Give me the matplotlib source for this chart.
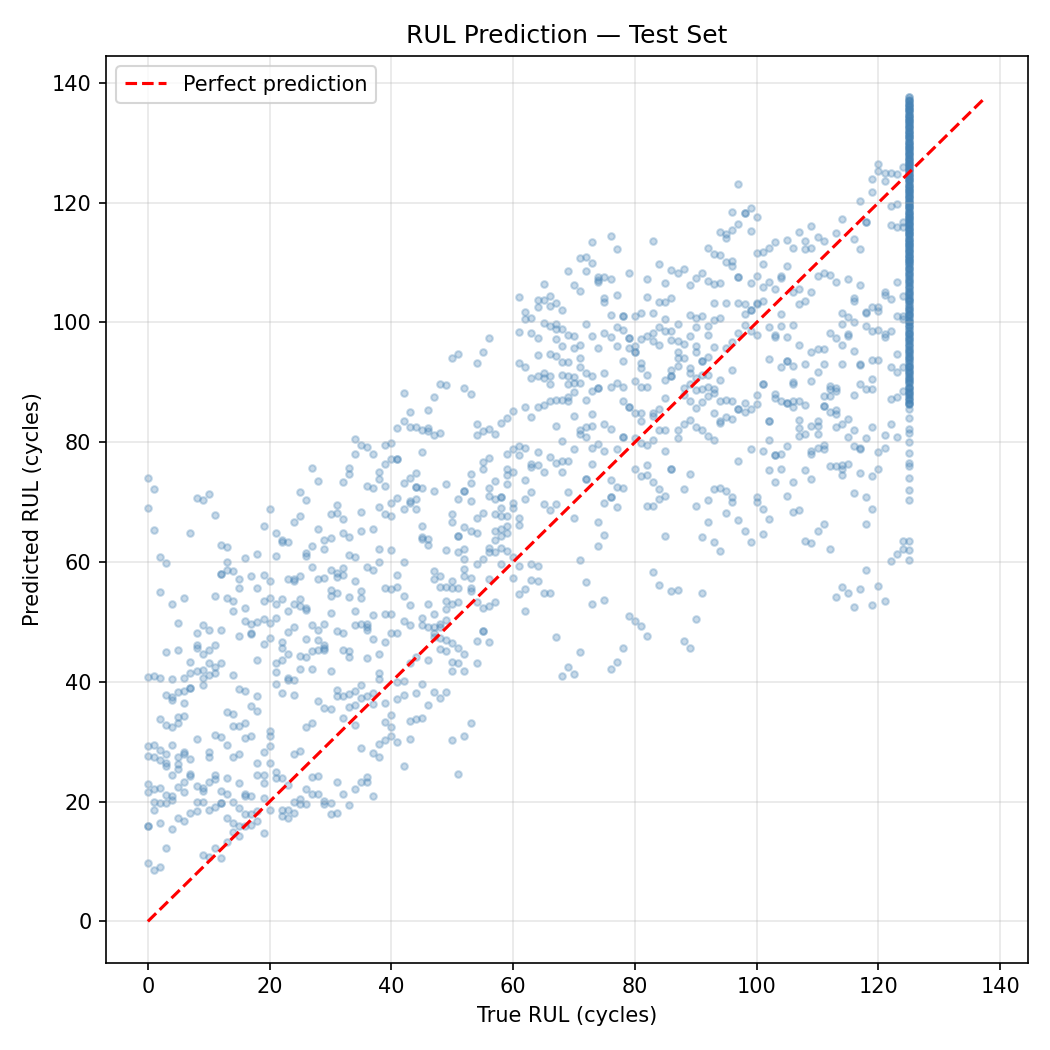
import numpy as np
import matplotlib.pyplot as plt

# --- data (true RUL, predicted RUL) ---
pts_0_20 = [(0,74.0),(1,72.2),(0,69.0),(1,65.3),(8,70.7),(9,70.3),(10,71.3),(11,67.9),(7,64.8),(20,68.8),(19,66.0),(12,62.8),(13,62.5),(2,60.8),(3,59.9),(16,60.7),(18,61.3),(13,60.0),(13,58.6),(14,58.5),(12,58.0),(12,58.0),(15,57.1),(17,57.6),(19,57.8),(20,56.8),(15,55.6),(18,55.6),(2,55.0),(6,54.0),(11,54.3),(13,54.0),(14,53.5),(19,53.5),(20,54.0),(4,53.0),(16,52.4),(14,51.8),(5,49.8),(9,49.5),(16,50.1),(17,49.6),(18,50.0),(19,50.5),(20,49.8),(8,48.2),(10,48.7),(12,48.7),(17,48.2),(17,47.9),(15,47.6),(20,47.3),(19,46.3),(3,45.0),(5,45.3),(8,46.1),(8,45.7),(10,45.3),(11,46.2),(9,44.6),(7,43.3),(18,43.6),(10,43.1),(11,42.4),(12,43.1),(9,41.9),(8,41.8),(7,41.4),(10,41.2),(11,41.4),(9,40.7),(14,41.1),(0,40.8),(1,41.0),(2,40.6),(4,40.5),(6,40.6),(7,38.9),(7,38.9),(9,39.5),(6,38.5),(5,38.3),(4,37.4),(4,36.9),(3,37.8),(15,38.8),(16,38.5),(18,37.6),(6,36.4),(17,35.9),(18,35.1),(2,33.8),(3,32.8),(4,32.4),(5,33.2),(5,34.2),(6,34.3),(13,35.0),(14,34.6),(14,32.6),(15,32.6),(16,33.1),(20,31.8),(20,30.9),(20,29.3),(11,31.1),(12,30.8),(16,30.6),(17,30.9),(8,30.4),(13,29.5),(0,29.2),(1,29.5),(2,28.6),(4,29.4),(0,27.6),(1,27.4),(2,27.0),(3,27.9),(3,26.5),(3,26.0),(5,27.5),(6,27.9),(6,28.2),(7,27.1),(10,28.3),(10,27.5),(14,27.5),(15,28.0),(19,28.3),(5,26.3),(5,25.4),(18,26.4),(20,26.5),(4,24.5),(7,24.6),(7,24.2),(11,24.5),(13,24.0),(18,24.5),(19,24.5),(6,23.2),(5,22.5),(6,21.6),(10,23.2),(11,23.8),(15,23.1),(19,23.1),(0,22.9),(0,21.6),(1,22.1),(2,22.2),(3,21.1),(4,21.0),(4,20.2),(8,22.6),(9,22.2),(9,21.8),(12,21.7),(13,21.3),(16,21.3),(16,20.9),(17,21.0),(19,20.6),(1,19.9),(2,19.7),(3,19.7),(8,19.9),(9,20.0),(12,19.7),(12,19.7),(14,19.9),(15,19.0),(1,18.6),(10,18.6),(11,19.1),(20,18.6),(16,17.9),(17,17.9),(18,18.5),(7,18.1),(8,18.4),(13,17.2),(5,17.2),(6,16.8),(0,16.0),(0,16.0),(2,16.4),(14,16.4),(15,15.9),(14,15.0),(15,14.3),(16,16.0),(17,16.1),(18,16.8),(4,15.4),(19,14.7),(3,12.2),(11,12.3),(13,13.2),(9,11.1),(10,10.7),(12,10.6),(0,9.7),(1,8.5),(2,9.1)]

pts_21_40 = [(34,80.5),(34,78.0),(35,79.6),(36,79.2),(37,78.0),(39,79.6),(40,79.8),(27,75.7),(28,73.5),(33,75.7),(33,74.7),(32,73.4),(39,76.3),(40,77.2),(38,75.1),(38,73.8),(39,72.7),(36,72.7),(37,72.3),(25,71.7),(26,70.4),(31,69.5),(30,68.0),(31,68.2),(32,67.2),(35,68.4),(38,69.1),(39,68.0),(40,67.7),(40,69.8),(24,66.7),(25,67.6),(28,65.5),(32,64.9),(33,64.2),(35,65.2),(37,65.5),(21,64.9),(22,63.6),(22,63.3),(23,63.3),(29,63.6),(30,64.0),(27,62.6),(21,61.0),(26,61.5),(26,61.0),(29,62.1),(33,61.1),(34,60.9),(38,62.1),(38,60.0),(40,62.0),(27,59.2),(30,58.6),(31,58.1),(32,59.0),(32,57.9),(36,59.2),(37,58.6),(23,57.1),(24,57.1),(24,56.9),(25,57.7),(28,57.1),(29,57.4),(31,57.5),(34,56.9),(39,55.6),(40,55.5),(35,55.2),(35,54.0),(30,55.4),(30,54.4),(31,54.9),(33,54.2),(22,53.8),(21,53.0),(25,53.8),(24,53.0),(25,52.6),(26,52.3),(26,52.0),(23,51.8),(30,51.5),(34,51.9),(37,51.2),(39,51.4),(40,51.3),(21,50.6),(29,49.7),(27,49.4),(28,48.7),(24,49.1),(23,48.3),(34,49.5),(35,49.7),(36,49.6),(36,49.1),(36,48.6),(31,48.5),(32,48.2),(40,48.1),(22,46.7),(22,45.6),(26,47.2),(28,47.0),(37,47.1),(39,46.7),(29,46.2),(29,45.7),(29,45.3),(27,45.2),(28,45.3),(23,44.7),(32,45.3),(33,45.2),(33,44.2),(38,44.7),(25,44.3),(26,44.2),(36,43.9),(21,43.1),(22,43.6),(25,42.1),(27,42.1),(30,41.8),(21,41.6),(21,39.6),(23,40.7),(23,40.3),(24,40.3),(38,41.5),(38,40.4),(22,38.1),(24,37.8),(31,38.7),(31,37.6),(32,37.6),(33,38.0),(34,38.4),(35,39.4),(28,36.8),(29,35.7),(30,35.5),(33,35.8),(34,36.2),(35,37.3),(36,37.6),(37,38.1),(37,36.3),(39,36.4),(32,33.9),(34,32.8),(26,32.4),(27,33.1),(39,33.3),(40,34.5),(40,32.4),(40,31.0),(39,30.2),(38,29.6),(38,27.4),(37,28.1),(35,29.0),(24,28.0),(25,28.4),(21,25.0),(21,23.9),(22,23.9),(27,24.1),(28,24.3),(31,23.3),(35,23.3),(36,24.1),(36,23.3),(23,22.8),(26,22.1),(27,21.3),(28,21.3),(32,21.3),(34,22.1),(37,20.9),(24,20.0),(25,20.4),(25,19.6),(26,19.6),(29,20.1),(29,19.6),(30,19.7),(33,19.4),(22,18.6),(22,17.6),(23,18.6),(23,17.2),(24,18.1),(30,17.9),(31,18.1)]

pts_41_60 = [(56,97.4),(55,95.0),(50,94.0),(51,94.7),(54,93.2),(48,89.7),(49,89.5),(52,89.0),(53,88.0),(42,88.2),(47,87.5),(46,85.4),(43,85.0),(42,83.6),(41,82.3),(43,82.5),(44,82.5),(45,82.0),(46,82.3),(46,81.9),(47,81.2),(48,81.5),(54,83.0),(54,81.2),(55,81.8),(56,82.2),(57,81.3),(58,83.2),(59,84.0),(60,85.2),(45,78.3),(41,77.2),(41,77.2),(44,74.8),(43,74.1),(42,73.2),(44,72.5),(44,72.5),(45,72.4),(47,71.8),(49,73.0),(53,74.7),(53,73.2),(52,71.8),(52,71.8),(55,76.7),(55,75.6),(56,77.4),(57,73.5),(56,72.4),(56,71.0),(59,78.0),(60,78.8),(59,75.5),(59,74.6),(59,73.0),(60,75.1),(41,70.7),(43,70.2),(43,69.8),(44,70.5),(44,68.8),(42,68.8),(51,70.5),(53,70.2),(58,70.8),(58,70.8),(57,70.5),(58,69.0),(57,68.0),(58,67.6),(60,69.9),(60,69.0),(50,68.0),(50,66.7),(54,67.4),(55,68.2),(59,67.6),(59,66.0),(59,64.8),(58,65.5),(58,64.4),(57,65.1),(57,63.7),(45,66.0),(45,64.1),(45,63.8),(46,63.8),(46,62.9),(52,65.9),(53,65.2),(54,64.8),(51,64.4),(51,64.4),(49,62.0),(51,61.7),(52,62.1),(52,60.5),(56,62.4),(56,61.6),(57,61.7),(58,62.4),(59,61.9),(42,60.0),(54,59.6),(55,60.5),(58,59.6),(60,60.8),(47,58.5),(47,57.1),(48,57.6),(49,55.9),(48,55.9),(50,56.9),(50,55.7),(51,55.7),(52,58.8),(52,57.7),(53,57.3),(53,55.6),(53,55.2),(54,53.4),(55,52.3),(56,52.7),(57,53.4),(56,57.1),(60,57.3),(41,57.8),(41,55.9),(42,54.4),(43,52.8),(42,50.2),(43,49.5),(46,53.0),(47,51.3),(45,50.7),(45,49.5),(46,49.2),(47,49.2),(48,49.6),(48,49.1),(49,53.5),(49,52.1),(50,53.0),(51,53.4),(49,50.4),(49,47.0),(48,45.4),(49,45.2),(50,46.4),(51,45.6),(52,44.7),(47,48.2),(47,47.5),(48,47.3),(50,43.3),(51,43.2),(50,41.8),(52,41.8),(54,43.1),(55,48.5),(55,48.5),(54,46.8),(56,46.7),(41,48.2),(44,44.1),(43,43.1),(46,43.7),(41,40.0),(42,40.2),(45,39.6),(44,38.2),(41,37.1),(42,37.8),(47,38.3),(48,37.3),(49,38.3),(46,36.2),(43,33.5),(44,33.8),(45,34.0),(53,33.1),(41,30.0),(43,30.4),(52,31.0),(50,30.2),(42,26.0),(51,24.6)]

pts_61_80 = [(76,114.5),(73,113.4),(77,112.3),(71,110.7),(72,111.0),(73,110.0),(69,108.6),(72,108.6),(74,107.5),(74,107.0),(74,106.8),(75,107.6),(76,107.2),(79,108.3),(65,106.4),(70,106.3),(71,105.3),(75,104.1),(75,103.4),(77,104.6),(61,104.2),(64,103.8),(65,103.7),(66,104.4),(67,103.3),(66,102.7),(64,102.5),(68,102.1),(62,101.7),(63,100.8),(62,100.5),(65,99.9),(66,99.4),(67,99.8),(67,98.9),(68,98.9),(76,101.2),(78,101.1),(78,101.1),(80,101.0),(61,98.4),(63,98.3),(64,97.4),(69,97.9),(70,97.8),(72,99.7),(73,97.7),(75,98.3),(76,97.5),(77,99.2),(78,98.7),(79,97.4),(79,97.4),(79,95.7),(80,96.1),(80,95.0),(80,95.0),(67,97.2),(68,96.0),(66,94.7),(67,94.4),(64,94.5),(71,96.2),(70,95.8),(71,94.0),(74,95.7),(77,96.1),(61,93.2),(62,92.6),(68,93.4),(69,93.4),(71,92.5),(72,91.5),(73,91.0),(75,91.5),(78,93.6),(63,90.8),(64,91.1),(65,91.5),(65,90.8),(66,91.1),(66,89.7),(68,91.3),(69,91.0),(70,90.9),(69,89.7),(70,89.9),(71,89.9),(70,88.4),(73,88.5),(74,89.0),(74,89.0),(76,89.3),(77,89.9),(78,89.2),(80,90.2),(65,86.2),(64,85.9),(66,86.8),(67,87.1),(68,87.1),(69,87.5),(69,86.9),(62,85.9),(63,84.2),(72,87.1),(73,84.7),(70,84.4),(78,86.8),(79,85.8),(79,85.8),(80,84.9),(75,83.0),(76,82.2),(73,82.7),(72,82.5),(71,82.0),(71,81.3),(72,80.8),(67,82.7),(68,80.2),(70,78.8),(73,79.1),(74,79.7),(75,78.6),(77,78.9),(78,80.8),(78,80.8),(80,80.7),(80,75.5),(61,79.4),(62,79.1),(61,77.8),(64,78.3),(63,76.3),(63,75.8),(64,76.2),(65,75.1),(66,77.5),(67,76.5),(68,76.9),(69,76.9),(68,75.1),(62,73.7),(63,71.7),(62,70.5),(72,73.9),(72,73.9),(73,76.3),(76,73.7),(77,72.5),(78,72.3),(76,70.8),(76,70.8),(75,69.8),(77,69.2),(69,71.7),(65,69.7),(66,68.7),(67,69.7),(70,67.3),(61,67.4),(61,66.2),(74,66.6),(75,64.5),(74,62.7),(71,60.3),(61,59.4),(63,59.6),(64,59.4),(63,57.0),(64,56.9),(61,54.7),(62,55.5),(65,54.9),(66,54.8),(62,51.8),(72,56.7),(73,53.0),(75,53.6),(79,51.0),(80,50.1),(67,47.5),(71,44.9),(78,45.6),(77,43.3),(76,42.1),(69,42.5),(68,41.0),(70,41.3)]

pts_81_100 = [(97,123.1),(96,118.5),(98,118.2),(98,118.2),(99,119.1),(100,117.6),(99,115.2),(97,116.4),(94,115.1),(95,114.7),(95,114.1),(96,115.5),(92,112.5),(93,111.4),(94,111.3),(95,110.1),(96,110.2),(96,109.5),(100,111.6),(83,113.6),(84,109.7),(86,108.7),(87,108.2),(88,108.9),(91,108.2),(90,107.4),(89,106.3),(93,106.4),(94,106.5),(92,106.9),(97,107.6),(97,107.6),(99,106.6),(100,107.7),(82,107.2),(85,106.6),(82,104.3),(84,103.4),(85,103.4),(86,104.1),(93,103.2),(95,103.2),(97,103.2),(98,103.1),(98,101.4),(99,102.0),(99,102.0),(100,103.3),(100,103.0),(81,101.5),(83,101.6),(85,100.6),(87,99.7),(86,98.6),(85,98.6),(84,99.2),(83,98.3),(82,97.8),(81,97.2),(89,101.3),(90,100.8),(91,101.0),(92,99.4),(93,100.4),(94,100.8),(89,97.8),(90,99.2),(92,97.9),(93,95.9),(95,95.8),(96,96.7),(97,98.3),(98,99.5),(99,98.6),(100,97.9),(83,96.9),(84,96.2),(86,97.1),(87,96.9),(88,96.4),(81,93.3),(81,92.4),(90,96.1),(90,95.0),(91,93.6),(91,93.6),(92,94.3),(87,95.0),(87,94.1),(88,94.0),(87,92.8),(86,92.0),(86,91.1),(86,91.1),(85,90.4),(89,92.4),(89,91.5),(90,90.8),(91,91.3),(92,91.3),(96,92.0),(94,90.4),(93,88.9),(92,89.3),(82,91.3),(81,89.2),(82,89.2),(88,89.0),(88,87.8),(89,89.7),(90,88.7),(91,88.9),(90,85.7),(91,86.7),(85,87.4),(84,85.5),(83,84.9),(83,84.4),(81,84.9),(81,83.6),(89,86.8),(89,83.7),(88,83.0),(93,88.2),(92,87.7),(93,84.8),(94,86.8),(95,87.0),(96,86.9),(94,83.6),(94,83.2),(95,84.2),(96,83.8),(97,85.5),(97,85.5),(98,85.0),(98,86.5),(99,85.5),(100,87.8),(100,86.4),(84,82.0),(85,82.0),(87,82.0),(87,80.7),(90,82.6),(91,82.0),(92,81.1),(93,80.4),(81,79.8),(82,79.5),(83,80.3),(85,78.6),(86,75.5),(86,75.5),(89,74.7),(81,74.4),(82,74.6),(82,76.2),(83,73.4),(84,72.2),(84,70.5),(85,71.1),(83,69.4),(82,69.4),(88,72.2),(97,76.9),(99,78.8),(93,72.2),(94,72.3),(95,71.9),(96,70.9),(96,70.0),(95,68.2),(92,70.3),(90,69.4),(100,70.8),(100,70.0),(97,67.0),(98,65.2),(99,63.4),(92,66.6),(93,63.3),(94,61.8),(91,64.1),(85,64.3),(83,58.3),(84,56.2),(86,55.1),(87,55.4),(91,54.8),(81,49.3),(82,47.6),(90,50.5),(88,46.8),(89,45.6)]

pts_101_124 = [(120,126.5),(119,123.9),(120,125.2),(121,125.0),(122,124.9),(123,124.7),(124,126.0),(121,123.6),(119,121.8),(122,119.4),(123,119.8),(122,116.3),(123,116.0),(124,116.0),(124,116.8),(117,120.3),(118,116.8),(118,116.8),(114,117.2),(116,113.9),(117,112.2),(113,115.0),(107,115.1),(109,116.1),(108,113.6),(109,112.5),(110,114.3),(111,113.6),(108,112.2),(106,112.5),(105,113.7),(103,113.4),(102,112.5),(101,111.8),(101,109.7),(105,109.4),(104,107.8),(104,107.4),(101,105.9),(102,106.7),(103,105.5),(106,105.0),(107,105.5),(107,103.0),(108,103.6),(109,105.0),(110,107.8),(111,108.2),(112,107.9),(113,106.7),(115,107.2),(117,106.3),(121,105.0),(121,104.6),(122,103.9),(123,106.8),(124,104.4),(116,104.0),(116,103.6),(101,103.6),(104,101.4),(102,99.2),(103,97.9),(104,99.4),(103,97.5),(105,97.5),(106,99.6),(112,98.2),(113,97.4),(114,101.6),(114,99.7),(115,100.9),(115,98.1),(116,100.0),(118,101.8),(118,99.4),(119,102.6),(120,102.6),(120,101.9),(118,101.5),(119,98.6),(120,98.7),(121,98.1),(121,97.5),(122,98.6),(123,101.1),(124,100.5),(124,101.1),(102,93.9),(105,93.6),(105,93.6),(104,92.6),(106,92.7),(107,96.2),(108,93.0),(109,95.1),(110,95.5),(111,95.5),(110,91.8),(109,90.2),(111,93.0),(114,96.2),(115,97.7),(114,93.0),(116,95.2),(117,93.1),(117,92.9),(119,93.8),(120,93.8),(122,92.5),(123,94.7),(123,91.8),(124,92.6),(101,89.8),(101,89.8),(103,88.0),(103,87.3),(104,86.8),(105,86.5),(105,86.5),(106,86.9),(106,85.8),(107,86.8),(108,86.2),(106,90.1),(106,89.7),(112,89.4),(112,88.8),(113,89.1),(113,88.5),(111,87.7),(112,87.7),(116,87.8),(118,88.8),(119,88.8),(119,90.5),(117,89.8),(122,87.2),(123,87.6),(124,88.5),(111,86.0),(111,86.0),(102,83.6),(102,83.6),(102,80.4),(101,78.5),(107,83.7),(107,82.4),(107,81.1),(108,81.3),(109,82.7),(110,83.6),(110,82.7),(110,81.3),(109,78.5),(109,78.1),(110,79.1),(111,79.6),(111,78.8),(112,85.1),(113,85.3),(113,84.7),(113,82.5),(114,83.0),(115,83.8),(116,82.0),(115,80.8),(116,79.4),(117,79.1),(117,78.8),(118,80.7),(119,82.6),(121,81.2),(122,83.1),(123,80.9),(120,78.3),(121,79.0),(103,77.9),(103,77.9),(104,78.0),(105,79.4),(102,75.3),(104,75.5),(103,73.4),(106,73.3),(112,76.0),(113,76.0),(114,76.2),(114,75.5),(114,74.5),(115,76.3),(117,74.8),(119,74.3),(120,75.6),(108,75.3),(109,73.8),(105,71.0),(106,68.4),(107,68.7),(101,68.8),(102,67.1),(101,64.6),(116,71.5),(118,70.9),(119,68.8),(118,66.3),(108,63.5),(109,63.2),(110,65.2),(111,66.3),(112,62.1),(122,60.2),(123,61.3),(124,62.1),(124,63.5),(118,58.6),(113,54.2),(114,55.8),(115,54.9),(116,52.5),(117,55.5),(119,52.9),(120,56.0),(121,53.5)]

# engines whose true RUL is capped at 125
cap = 125
pred_cap_low = [60.3, 62.0, 63.5, 70.3, 72.1, 74.0, 76.0, 76.5, 78.2, 80.0, 81.5, 82.2, 84.1, 85.6]
pred_cap_mid = [86.3, 86.6, 87.1, 87.4, 87.9, 88.2, 88.6, 89.0, 89.3, 89.9, 90.2, 90.5, 90.9, 91.4,
                91.7, 92.1, 92.6, 92.8, 93.3, 93.7, 94.0, 94.4, 94.9, 95.3, 95.5, 96.0, 96.4, 96.9,
                97.2, 97.6, 98.1, 98.3, 98.8, 99.2, 99.5, 100.0, 100.3, 100.7, 101.2, 101.4, 101.9,
                102.3, 102.6, 103.0, 103.5, 103.8, 104.1, 104.6, 104.9, 105.3, 105.8, 106.0, 106.5,
                106.9, 107.2, 107.7, 108.0, 108.4, 108.9, 109.1, 109.6, 109.9]
pred_cap_high = [110.2, 110.5, 110.8, 111.1, 111.3, 111.7, 112.0, 112.2, 112.6, 112.9, 113.1, 113.5,
                 113.8, 114.0, 114.4, 114.7, 114.9, 115.3, 115.6, 115.8, 116.2, 116.5, 116.7, 117.1,
                 117.4, 117.6, 118.0, 118.3, 118.5, 118.9, 119.2, 119.4, 119.8, 120.1, 120.3, 120.7,
                 121.0, 121.2, 121.6, 121.9, 122.1, 122.5, 122.8, 123.0, 123.4, 123.7, 123.9, 124.3,
                 124.6, 124.8, 125.2, 125.5, 125.7, 126.1, 126.4, 126.6, 127.0, 127.3, 127.5, 127.9,
                 128.2, 128.4, 128.8, 129.1, 129.3, 129.7, 130.0, 130.2, 130.6, 130.9, 131.1, 131.5,
                 131.8, 132.0, 132.4, 132.7, 132.9, 133.3, 133.6, 133.8, 134.2, 134.5, 134.7, 135.1,
                 135.4, 135.6, 136.0, 136.3, 136.5, 136.9, 137.2, 137.6]
pred_at_cap = pred_cap_low + pred_cap_mid + pred_cap_high + pred_cap_mid + pred_cap_high

pairs = np.array(pts_0_20 + pts_21_40 + pts_41_60 + pts_61_80 + pts_81_100 + pts_101_124)
y_true = np.concatenate([pairs[:, 0], np.full(len(pred_at_cap), cap)])
y_pred = np.concatenate([pairs[:, 1], pred_at_cap])

fig, ax = plt.subplots(figsize=(7, 7))
ax.scatter(y_true, y_pred, s=10, alpha=0.3, color='steelblue')
m = max(y_true.max(), y_pred.max())
ax.plot([0, m], [0, m], 'r--', lw=1.5, label='Perfect prediction')
ax.set_xlabel('True RUL (cycles)')
ax.set_ylabel('Predicted RUL (cycles)')
ax.set_title('RUL Prediction — Test Set')
ax.legend(loc='upper left')
ax.grid(True, alpha=0.3)
plt.tight_layout()
plt.savefig('out.png', dpi=150)
